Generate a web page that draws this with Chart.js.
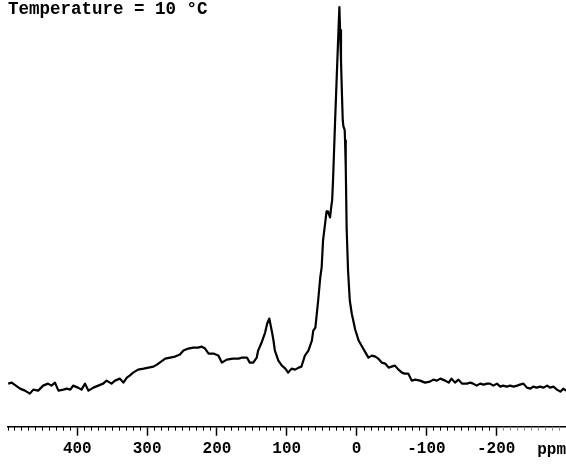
<!DOCTYPE html>
<html>
<head>
<meta charset="utf-8">
<script src="https://cdn.jsdelivr.net/npm/chart.js@4"></script>
<style>
  html, body { margin: 0; padding: 0; background: #fff; }
  #wrap { position: relative; width: 566px; height: 464px; }
</style>
</head>
<body>
<div id="wrap"><canvas id="spectrum"></canvas></div>
<script>
var title = 'Temperature = 10 °C';
var unitLabel = 'ppm';

// chemical shift (ppm) and intensity (a.u.)
var ppm = [
  499, 494, 482, 475, 468, 463, 456, 449, 442, 437, 432, 427, 420, 415, 410, 406,
  399, 394, 389, 384, 377, 370, 363, 358, 351, 346, 339, 334, 329, 325, 320, 313,
  305, 298, 291, 286, 282, 274, 267, 260, 253, 248, 241, 234, 227, 222, 217, 212,
  205, 198, 193, 186, 177, 169, 164, 157, 153, 148, 143, 141, 136, 131, 128, 125,
  121, 119, 117, 112, 107, 102, 98, 93, 88, 83, 79, 74, 69, 64, 62, 59,
  55, 52, 50, 48, 45, 43, 41, 38, 36, 35, 33.7, 32.2, 30.7, 29.1, 27.5, 25.9,
  24.6, 23.6, 22.3, 21.1, 19.8, 18.9, 17, 16.5, 15.5, 14.2, 12.2, 9.7, 6.9, 2, -3, -7,
  -12, -17, -22, -27, -31, -36, -41, -46, -50, -55, -60, -65, -69, -74, -79, -84,
  -91, -98, -105, -110, -115, -120, -127, -132, -136, -141, -146, -151, -158, -163, -167, -172,
  -177, -182, -187, -191, -196, -201, -206, -210, -215, -220, -225, -230, -234, -239, -244, -249,
  -253, -258, -263, -268, -273, -277, -282, -287, -292, -296, -300
];
var intensity = [
  5, 6, 0, -2, -5, -1, -2, 3, 5, 3, 6, -2, -1, 0, -1, 3,
  1, -1, 5, -2, 1, 3, 5, 8, 5, 8, 10, 6, 11, 13, 16, 19,
  20, 21, 22, 24, 26, 30, 31, 32, 34, 38, 40, 41, 41, 42, 40, 35,
  35, 33, 26, 29, 30, 30, 31, 31, 26, 26, 31, 38, 46, 56, 65, 70,
  56, 48, 38, 28, 23, 20, 16, 20, 19, 21, 22, 33, 38, 48, 58, 61,
  88, 111, 121, 148, 165, 177, 177, 171, 183, 188, 208, 238, 268, 298, 328, 358,
  381, 358, 328, 298, 268, 262, 258, 248, 222, 160, 118, 88, 75, 59, 48, 43,
  37, 31, 33, 32, 30, 26, 25, 21, 22, 23, 19, 16, 15, 15, 8, 9,
  8, 6, 7, 9, 8, 10, 8, 6, 10, 6, 9, 5, 5, 6, 5, 3,
  5, 4, 5, 5, 3, 5, 2, 3, 2, 3, 2, 3, 4, 5, 1, 0,
  2, 1, 2, 1, 3, 1, 2, -1, -3, 0, -2
];

var majorTicks = [400, 300, 200, 100, 0, -100, -200];
var minorStep = 10;
var ppmMin = -300;
var ppmMax = 500;

var monoFont = '"Liberation Mono", "Courier New", monospace';

var extras = {
  id: 'extras',
  afterDraw: function (chart) {
    var ctx = chart.ctx;
    var xs = chart.scales.x;
    var bottom = chart.chartArea.bottom;
    ctx.save();
    // minor ticks
    ctx.lineWidth = 1;
    for (var v = ppmMax; v >= ppmMin; v -= minorStep) {
      if (majorTicks.indexOf(v) !== -1) continue;
      var px = Math.round(xs.getPixelForValue(v)) + 0.5;
      ctx.strokeStyle = v < -200 ? '#8a8a8a' : '#000';
      ctx.beginPath();
      ctx.moveTo(px, bottom);
      ctx.lineTo(px, bottom + 4);
      ctx.stroke();
    }
    ctx.fillStyle = '#000';
    ctx.textBaseline = 'alphabetic';
    ctx.textAlign = 'right';
    ctx.font = 'bold 16px ' + monoFont;
    ctx.fillText(unitLabel, 566, 454);
    ctx.textAlign = 'left';
    ctx.font = 'bold 17.5px ' + monoFont;
    ctx.fillText(title, 8, 14);
    ctx.restore();
  }
};

new Chart(document.getElementById('spectrum').getContext('2d'), {
  type: 'line',
  data: {
    datasets: [{
      data: ppm.map(function (p, i) { return { x: p, y: intensity[i] }; }),
      borderColor: '#000',
      borderWidth: 2.2,
      borderJoinStyle: 'round',
      pointRadius: 0,
      tension: 0,
      fill: false
    }]
  },
  options: {
    responsive: true,
    maintainAspectRatio: false,
    animation: false,
    devicePixelRatio: 1,
    layout: {
      padding: { left: 7.5, right: 0, top: 0, bottom: 1.3 }
    },
    plugins: {
      legend: { display: false },
      tooltip: { enabled: false }
    },
    scales: {
      x: {
        type: 'linear',
        reverse: true,
        min: ppmMin,
        max: ppmMax,
        afterBuildTicks: function (axis) {
          axis.ticks = majorTicks.map(function (v) { return { value: v }; });
        },
        ticks: {
          autoSkip: false,
          maxRotation: 0,
          padding: 5.5,
          color: '#000',
          font: { family: monoFont, size: 16, weight: 'bold', lineHeight: 1 }
        },
        grid: {
          drawOnChartArea: false,
          tickLength: 9,
          tickColor: '#000',
          tickWidth: 1.5
        },
        border: {
          color: '#000',
          width: 1.5
        }
      },
      y: {
        display: false,
        min: -38,
        max: 388
      }
    }
  },
  plugins: [extras]
});
</script>
</body>
</html>
